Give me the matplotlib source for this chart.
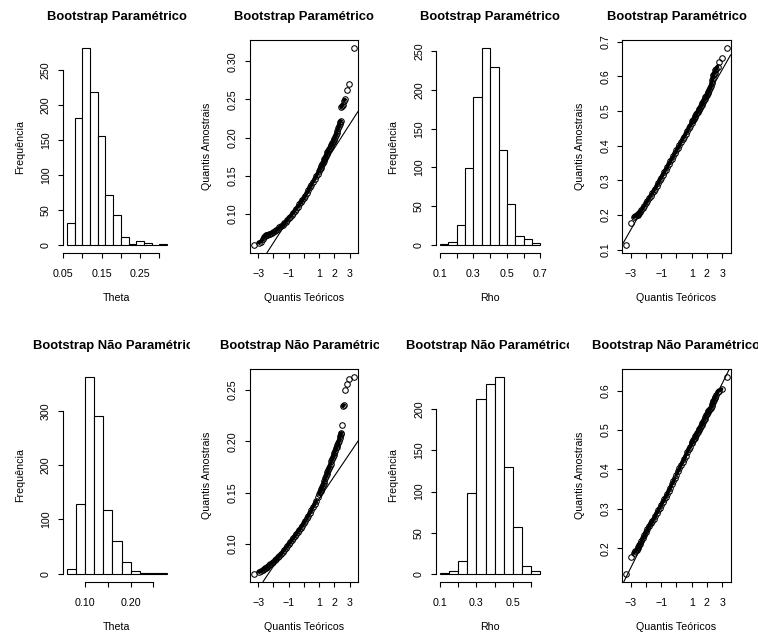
import numpy as np
import matplotlib
matplotlib.use("Agg")
import matplotlib.pyplot as plt
from matplotlib.transforms import Bbox, TransformedBbox

plt.rcParams['font.family'] = ['Liberation Sans', 'DejaVu Sans']

# ---------------- data ----------------
theta_par_breaks = [0.06, 0.08, 0.10, 0.12, 0.14, 0.16, 0.18, 0.20, 0.22, 0.24, 0.26, 0.28, 0.30, 0.32]
theta_par_counts = [31, 181, 281, 219, 155, 71, 42, 11, 1, 5, 2, 0, 1]

rho_par_breaks = [0.10, 0.15, 0.20, 0.25, 0.30, 0.35, 0.40, 0.45, 0.50, 0.55, 0.60, 0.65, 0.70]
rho_par_counts = [1, 3, 26, 99, 191, 254, 230, 123, 53, 11, 7, 2]

theta_np_breaks = [0.06, 0.08, 0.10, 0.12, 0.14, 0.16, 0.18, 0.20, 0.22, 0.24, 0.26, 0.28]
theta_np_counts = [8, 128, 362, 291, 118, 60, 22, 5, 2, 2, 2]

rho_np_breaks = [0.10, 0.15, 0.20, 0.25, 0.30, 0.35, 0.40, 0.45, 0.50, 0.55, 0.60, 0.65]
rho_np_counts = [1, 3, 15, 98, 213, 231, 239, 130, 57, 10, 3]

# theoretical normal quantiles (x of the Q-Q plots)
qq_theoretical = [-3.29, -2.97, -2.81, -2.70, -2.62, -2.55, -2.50, -2.45, -2.40,
                  -2.30, -2.20, -2.10, -2.00, -1.90, -1.80, -1.70, -1.60, -1.50, -1.40,
                  -1.30, -1.20, -1.10, -1.00, -0.90, -0.80, -0.70, -0.60, -0.50, -0.40,
                  -0.30, -0.20, -0.10, 0.00, 0.10, 0.20, 0.30, 0.40, 0.50, 0.60, 0.70,
                  0.80, 0.90,
                  1.00, 1.05, 1.10, 1.15, 1.20, 1.25, 1.30, 1.35, 1.40, 1.45, 1.50,
                  1.55, 1.60, 1.65, 1.70, 1.75, 1.80, 1.85, 1.90, 1.95, 2.00, 2.05,
                  2.10, 2.15, 2.20, 2.25, 2.30,
                  2.34, 2.37, 2.41, 2.46, 2.50, 2.55, 2.62, 2.70, 2.81, 2.97, 3.29]

qq_theta_par = [0.0595, 0.0620, 0.0635, 0.0670, 0.0695, 0.0710, 0.0718, 0.0724, 0.0729,
                0.0735, 0.0742, 0.0749, 0.0757, 0.0770, 0.0786, 0.0804, 0.0822, 0.0840, 0.0858,
                0.0877, 0.0898, 0.0919, 0.0941, 0.0964, 0.0990, 0.1016, 0.1042, 0.1069, 0.1096,
                0.1123, 0.1150, 0.1178, 0.1206, 0.1240, 0.1275, 0.1310, 0.1346, 0.1382, 0.1418, 0.1454,
                0.1490, 0.1528,
                0.1566, 0.1585, 0.1605, 0.1626, 0.1648, 0.1670, 0.1692, 0.1715, 0.1738, 0.1762, 0.1786,
                0.1805, 0.1825, 0.1845, 0.1865, 0.1885, 0.1905, 0.1925, 0.1945, 0.1965, 0.1986, 0.2010,
                0.2035, 0.2060, 0.2090, 0.2120, 0.2150,
                0.2180, 0.2210, 0.2215, 0.2400, 0.2410, 0.2430, 0.2480, 0.2500, 0.2620, 0.2700, 0.3170]

qq_rho_par = [0.114, 0.176, 0.193, 0.197, 0.199, 0.201, 0.203, 0.205, 0.208,
              0.214, 0.220, 0.227, 0.234, 0.241, 0.248, 0.255, 0.262, 0.269, 0.276,
              0.284, 0.292, 0.300, 0.308, 0.316, 0.324, 0.331, 0.339, 0.347, 0.355,
              0.362, 0.370, 0.378, 0.386, 0.394, 0.402, 0.410, 0.418, 0.426, 0.434, 0.442,
              0.450, 0.458,
              0.466, 0.470, 0.474, 0.478, 0.482, 0.486, 0.490, 0.494, 0.498, 0.502, 0.506,
              0.510, 0.514, 0.518, 0.523, 0.527, 0.531, 0.535, 0.539, 0.543, 0.547, 0.551,
              0.556, 0.561, 0.567, 0.573, 0.580,
              0.588, 0.594, 0.603, 0.607, 0.611, 0.617, 0.622, 0.628, 0.642, 0.652, 0.681]

qq_theta_np = [0.0708, 0.0725, 0.0735, 0.0745, 0.0752, 0.0760, 0.0766, 0.0772, 0.0778,
               0.0790, 0.0801, 0.0812, 0.0823, 0.0838, 0.0853, 0.0868, 0.0884, 0.0900, 0.0918,
               0.0937, 0.0956, 0.0975, 0.0995, 0.1015, 0.1035, 0.1055, 0.1075, 0.1095, 0.1115,
               0.1136, 0.1157, 0.1178, 0.1200, 0.1224, 0.1249, 0.1275, 0.1302, 0.1330, 0.1359, 0.1389,
               0.1420, 0.1452,
               0.1485, 0.1502, 0.1520, 0.1538, 0.1557, 0.1577, 0.1597, 0.1617, 0.1638, 0.1659, 0.1680,
               0.1700, 0.1720, 0.1741, 0.1762, 0.1783, 0.1805, 0.1826, 0.1848, 0.1869, 0.1890, 0.1910,
               0.1930, 0.1948, 0.1965, 0.1982, 0.2000,
               0.2030, 0.2050, 0.2070, 0.2080, 0.2160, 0.2340, 0.2350, 0.2500, 0.2555, 0.2605, 0.2625]

qq_rho_np = [0.135, 0.177, 0.187, 0.192, 0.196, 0.200, 0.204, 0.207, 0.211,
             0.218, 0.226, 0.234, 0.242, 0.249, 0.256, 0.263, 0.269, 0.275, 0.282,
             0.289, 0.296, 0.303, 0.310, 0.317, 0.324, 0.331, 0.338, 0.346, 0.354,
             0.362, 0.370, 0.378, 0.387, 0.395, 0.403, 0.411, 0.419, 0.427, 0.435, 0.443,
             0.451, 0.458,
             0.466, 0.470, 0.474, 0.477, 0.481, 0.485, 0.488, 0.492, 0.495, 0.499, 0.503,
             0.506, 0.510, 0.514, 0.518, 0.521, 0.525, 0.529, 0.533, 0.537, 0.541, 0.545,
             0.548, 0.551, 0.554, 0.557, 0.562,
             0.567, 0.570, 0.573, 0.577, 0.582, 0.585, 0.590, 0.597, 0.600, 0.604, 0.634]

# qqline (intercept, slope)
qqline_theta_par = (0.124, 0.031)
qqline_rho_par = (0.388, 0.077)
qqline_theta_np = (0.122, 0.022)
qqline_rho_np = (0.384, 0.078)

title_par = "Bootstrap Paramétrico"
title_np = "Bootstrap Não Paramétrico"

# ---------------- layout ----------------
W, H = 758, 635
fig = plt.figure(figsize=(W / 100, H / 100), dpi=100)
fig.patch.set_facecolor('white')

col_x = [62.8, 249.7, 436.0, 622.3]
ax_w = 108.3
row_y = [40.4, 369.4]
ax_h = 212.2
col_w = W / 4.0

FS = 7.7
TFS = 9.4
LW = 0.8


def px_rect(x0, y0, w, h):
    return [x0 / W, 1 - (y0 + h) / H, w / W, h / H]


def fx(x):
    return x / W


def fy(y):
    return 1 - y / H


def style_ticks(ax):
    ax.tick_params(axis='both', direction='out', length=3.6, width=LW,
                   labelsize=FS, colors='black')
    ax.tick_params(axis='x', pad=8.5)
    ax.tick_params(axis='y', pad=5.0)
    for lab in ax.get_yticklabels():
        lab.set_rotation(90)
        lab.set_va('center')


def add_texts(ax, col, row, title, xlabel, ylabel):
    x0 = col_x[col]
    y0 = row_y[row]
    cx = x0 + ax_w / 2
    t = fig.text(fx(cx), fy(y0 - 23.0), title, ha='center', va='center',
                 fontsize=TFS, fontweight='bold')
    clip = TransformedBbox(Bbox([[fx(col * col_w), 0], [fx((col + 1) * col_w), 1]]),
                           fig.transFigure)
    t.set_clip_box(clip)
    t.set_clip_on(True)
    fig.text(fx(cx), fy(y0 + ax_h + 45), xlabel, ha='center', va='center', fontsize=FS)
    fig.text(fx(x0 - 42.5), fy(y0 + ax_h / 2), ylabel, ha='center', va='center',
             fontsize=FS, rotation=90)


def draw_hist(col, row, breaks, counts, xticks, xlabels, yticks, title, xlabel):
    ax = fig.add_axes(px_rect(col_x[col], row_y[row], ax_w, ax_h))
    b = np.array(breaks)
    c = np.array(counts)
    ax.bar(b[:-1], c, width=np.diff(b), align='edge', facecolor='white',
           edgecolor='black', linewidth=LW)
    xr = b[-1] - b[0]
    ax.set_xlim(b[0] - 0.04 * xr, b[-1] + 0.04 * xr)
    ax.set_ylim(-0.04 * c.max(), c.max() * 1.04)
    ax.set_xticks(xticks)
    ax.set_xticklabels(xlabels)
    ax.set_yticks(yticks)
    ax.set_yticklabels([str(v) for v in yticks])
    for s in ['top', 'right']:
        ax.spines[s].set_visible(False)
    ax.spines['left'].set_bounds(yticks[0], yticks[-1])
    ax.spines['bottom'].set_bounds(xticks[0], xticks[-1])
    for s in ['left', 'bottom']:
        ax.spines[s].set_linewidth(LW)
    style_ticks(ax)
    add_texts(ax, col, row, title, xlabel, "Frequência")
    return ax


def draw_qq(col, row, theo, sample, line, yticks, ylabels, title):
    ax = fig.add_axes(px_rect(col_x[col], row_y[row], ax_w, ax_h))
    x = np.array(theo)
    y = np.array(sample)
    xr = x.max() - x.min()
    yr = y.max() - y.min()
    ax.set_xlim(x.min() - 0.04 * xr, x.max() + 0.04 * xr)
    ax.set_ylim(y.min() - 0.04 * yr, y.max() + 0.04 * yr)
    # dark band where the points crowd together (many overlapping circles)
    pts = ax.transData.transform(np.column_stack([x, y]))
    gaps = np.hypot(np.diff(pts[:, 0]), np.diff(pts[:, 1]))
    for i, g in enumerate(gaps):
        if g < 3.6:
            ax.plot(x[i:i + 2], y[i:i + 2], color='black', linewidth=2.4,
                    solid_capstyle='round')
    ax.plot(x, y, linestyle='none', marker='o', markersize=4.0,
            markerfacecolor='none', markeredgecolor='black', markeredgewidth=0.75)
    ax.axline((0, line[0]), slope=line[1], color='black', linewidth=LW)
    ax.set_xticks([-3, -2, -1, 0, 1, 2, 3])
    ax.set_xticklabels(['\u22123', '', '\u22121', '', '1', '2', '3'])
    ax.set_yticks(yticks)
    ax.set_yticklabels(ylabels)
    for s in ax.spines.values():
        s.set_linewidth(LW)
    style_ticks(ax)
    add_texts(ax, col, row, title, "Quantis Teóricos", "Quantis Amostrais")
    return ax


draw_hist(0, 0, theta_par_breaks, theta_par_counts,
          [0.05, 0.10, 0.15, 0.20, 0.25, 0.30], ['0.05', '', '0.15', '', '0.25', ''],
          [0, 50, 100, 150, 200, 250], title_par, "Theta")
draw_qq(1, 0, qq_theoretical, qq_theta_par, qqline_theta_par,
        [0.10, 0.15, 0.20, 0.25, 0.30], ['0.10', '0.15', '0.20', '0.25', '0.30'], title_par)
draw_hist(2, 0, rho_par_breaks, rho_par_counts,
          [0.1, 0.2, 0.3, 0.4, 0.5, 0.6, 0.7], ['0.1', '', '0.3', '', '0.5', '', '0.7'],
          [0, 50, 100, 150, 200, 250], title_par, "Rho")
draw_qq(3, 0, qq_theoretical, qq_rho_par, qqline_rho_par,
        [0.1, 0.2, 0.3, 0.4, 0.5, 0.6, 0.7], ['0.1', '0.2', '0.3', '0.4', '0.5', '0.6', '0.7'], title_par)

draw_hist(0, 1, theta_np_breaks, theta_np_counts,
          [0.10, 0.15, 0.20, 0.25], ['0.10', '', '0.20', ''],
          [0, 100, 200, 300], title_np, "Theta")
draw_qq(1, 1, qq_theoretical, qq_theta_np, qqline_theta_np,
        [0.10, 0.15, 0.20, 0.25], ['0.10', '0.15', '0.20', '0.25'], title_np)
draw_hist(2, 1, rho_np_breaks, rho_np_counts,
          [0.1, 0.2, 0.3, 0.4, 0.5, 0.6], ['0.1', '', '0.3', '', '0.5', ''],
          [0, 50, 100, 150, 200], title_np, "Rho")
draw_qq(3, 1, qq_theoretical, qq_rho_np, qqline_rho_np,
        [0.2, 0.3, 0.4, 0.5, 0.6], ['0.2', '0.3', '0.4', '0.5', '0.6'], title_np)

fig.savefig("out.png", dpi=100, facecolor='white')
